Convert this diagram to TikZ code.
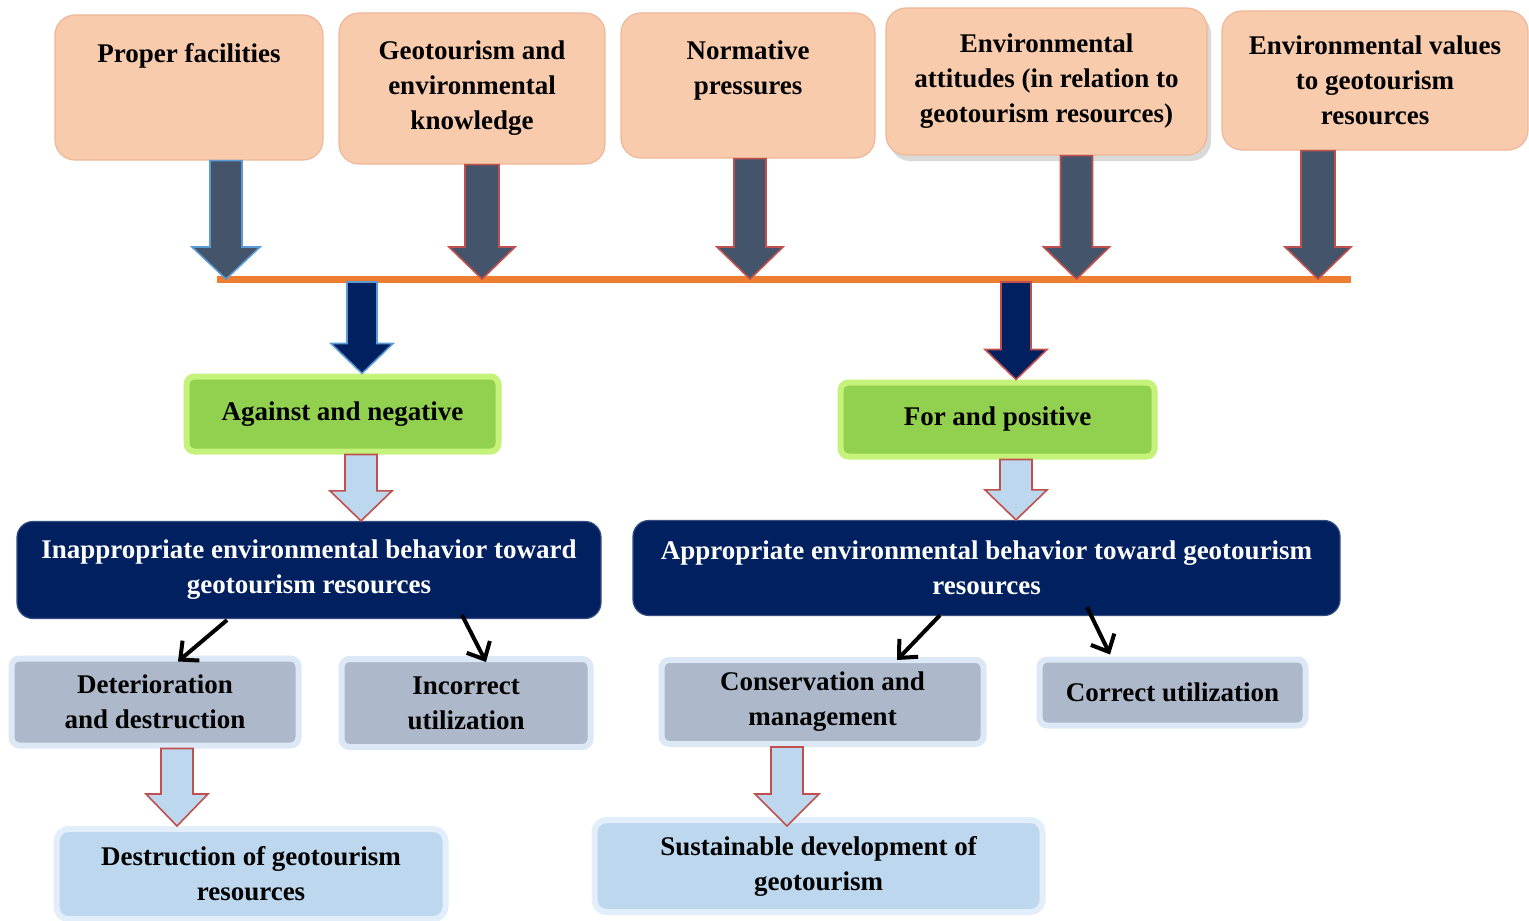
\documentclass[tikz,border=0pt]{standalone}
\usepackage{fontspec}
\setmainfont{Liberation Serif}
\usetikzlibrary{positioning,calc,arrows.meta,shadows}

\definecolor{peach}{HTML}{F8CBAD}
\definecolor{peachrim}{HTML}{EDB899}
\definecolor{slate}{HTML}{44546A}
\definecolor{redrim}{HTML}{C0504D}
\definecolor{bluerim}{HTML}{5B9BD5}
\definecolor{barorange}{HTML}{ED7D31}
\definecolor{navy}{HTML}{002060}
\definecolor{leaf}{HTML}{92D050}
\definecolor{leafrim}{HTML}{C4F27A}
\definecolor{steel}{HTML}{ADB9CA}
\definecolor{steelrim}{HTML}{DCE8F5}
\definecolor{sky}{HTML}{BDD7EE}
\definecolor{skyrim}{HTML}{E2EEF9}

\newcommand{\blockarrow}[6][]{%
	\path[#1] let \p1=(#2), \p2=(#3) in
		(\x1-#4,\y1) -- (\x1-#4,\y2+#6) -- (\x1-#5,\y2+#6) -- (\x1,\y2)
		-- (\x1+#5,\y2+#6) -- (\x1+#4,\y2+#6) -- (\x1+#4,\y1) -- cycle;}

\begin{document}
\begin{tikzpicture}[x=0.5pt,y=-0.5pt,
		boxsize/.style 2 args={minimum width=#1*0.5pt,minimum height=#2*0.5pt},
		boxtext/.style={font=\bfseries\fontsize{13.5}{17.5}\selectfont,align=center,inner sep=0pt},
		factorbox/.style={boxtext,rounded corners=10pt,fill=peach,draw=peachrim,line width=0.6pt},
		greenbox/.style={boxtext,rounded corners=4pt,fill=leaf,draw=leafrim,line width=3pt},
		navybox/.style={boxtext,rounded corners=8pt,fill=navy,draw=navy!80!white,line width=0.6pt,text=white},
		steelbox/.style={boxtext,rounded corners=4pt,fill=steel,draw=steelrim,line width=3pt},
		skybox/.style={boxtext,rounded corners=6pt,fill=sky,draw=skyrim,line width=3pt},
		slatearrow/.style={fill=slate,draw=redrim,line width=0.8pt},
		navyarrow/.style={fill=navy,draw=redrim,line width=0.8pt},
		skyarrow/.style={fill=sky,draw=redrim,line width=0.8pt},
		bar/.style={draw=barorange,line width=3.5pt},
		pointer/.style={line width=2pt,-{Straight Barb[length=7pt,width=13pt]}}]
		\useasboundingbox (0,0) rectangle (1529,920);

		\node[factorbox,boxsize={268}{145}]	(f1)	at (189,87.5)	{Proper facilities\\ \mbox{}\\ \mbox{}};
		\node[factorbox,boxsize={266}{151}]	(f2)	at (472,88.5)	{Geotourism and\\environmental\\knowledge};
		\node[factorbox,boxsize={254}{145}]	(f3)	at (748,85.5)	{Normative\\pressures\\ \mbox{}};
		\node[factorbox,boxsize={321}{147},drop shadow={opacity=0.3,shadow xshift=2pt,shadow yshift=-3pt}]	(f4)	at (1046.5,81.5)	{Environmental\\attitudes (in relation to\\geotourism resources)};
		\node[factorbox,boxsize={306}{139}]	(f5)	at (1375,80.5)	{Environmental values\\to geotourism\\resources};

		\coordinate (bl) at (217,279);
		\coordinate (br) at (1351,279);
		\coordinate (nl) at (362,282);
		\coordinate (nr) at (1016,282);

		\node[greenbox,boxsize={312}{75}]	(neg)	at (342.5,414)	{Against and negative};
		\node[greenbox,boxsize={314}{74}]	(pos)	at (997.5,419.5)	{For and positive};

		\node[navybox,boxsize={584}{97}]	(inap)	at (309,570)	{Inappropriate environmental behavior toward\\geotourism resources};
		\node[navybox,boxsize={707}{95}]	(app)	at (986.5,568)	{Appropriate environmental behavior toward geotourism\\resources};

		\node[steelbox,boxsize={287}{87}]	(det)	at (155,702)	{Deterioration\\and destruction};
		\node[steelbox,boxsize={249}{88}]	(inc)	at (466,703)	{Incorrect\\utilization};
		\node[steelbox,boxsize={322}{84}]	(cons)	at (822.5,702)	{Conservation and\\management};
		\node[steelbox,boxsize={266}{66}]	(corr)	at (1172.5,692.5)	{Correct utilization};

		\node[skybox,boxsize={389}{90}]	(dest)	at (251,874)	{Destruction of geotourism\\resources};
		\node[skybox,boxsize={448}{92}]	(sus)	at (818.5,866)	{Sustainable development of\\geotourism};

		\draw[bar] (bl) -- (br);

		\blockarrow[slatearrow,draw=bluerim]{$(f1.south)+(37,0)$}{bl}{8pt}{17pt}{16pt}
		\blockarrow[slatearrow]{$(f2.south)+(10,0)$}{bl}{8.5pt}{16.5pt}{16pt}
		\blockarrow[slatearrow]{$(f3.south)+(2,0)$}{bl}{8pt}{16.5pt}{16pt}
		\blockarrow[slatearrow]{$(f4.south)+(30,0)$}{bl}{8pt}{16.5pt}{16pt}
		\blockarrow[slatearrow]{$(f5.south)+(-57,0)$}{bl}{8.5pt}{16.5pt}{16pt}

		\blockarrow[navyarrow,draw=bluerim]{nl}{neg.north}{7.5pt}{15.5pt}{15pt}
		\blockarrow[navyarrow]{nr}{pos.north}{7.5pt}{15.5pt}{15pt}

		\blockarrow[skyarrow]{$(neg.south)+(18.5,0)$}{inap.north}{8pt}{15.5pt}{15pt}
		\blockarrow[skyarrow]{$(pos.south)+(18.5,0)$}{app.north}{8pt}{15.5pt}{15pt}
		\blockarrow[skyarrow]{$(det.south)+(22,0)$}{dest.north}{8pt}{15.5pt}{16pt}
		\blockarrow[skyarrow]{$(cons.south)+(-35.5,0)$}{$(sus.north)+(0,9)$}{8pt}{16pt}{16pt}

		\draw[pointer] ($(inap.south)+(-82,1)$) -- ($(det.north)+(23,6)$);
		\draw[pointer] ($(inap.south)+(153,-4)$) -- ($(inc.north)+(20,6)$);
		\draw[pointer] ($(app.south)+(-46.5,-1)$) -- ($(cons.north)+(74.5,3)$);
		\draw[pointer] ($(app.south)+(100.5,-9)$) -- ($(corr.north)+(-62.5,-2)$);
	\end{tikzpicture}
\end{document}
